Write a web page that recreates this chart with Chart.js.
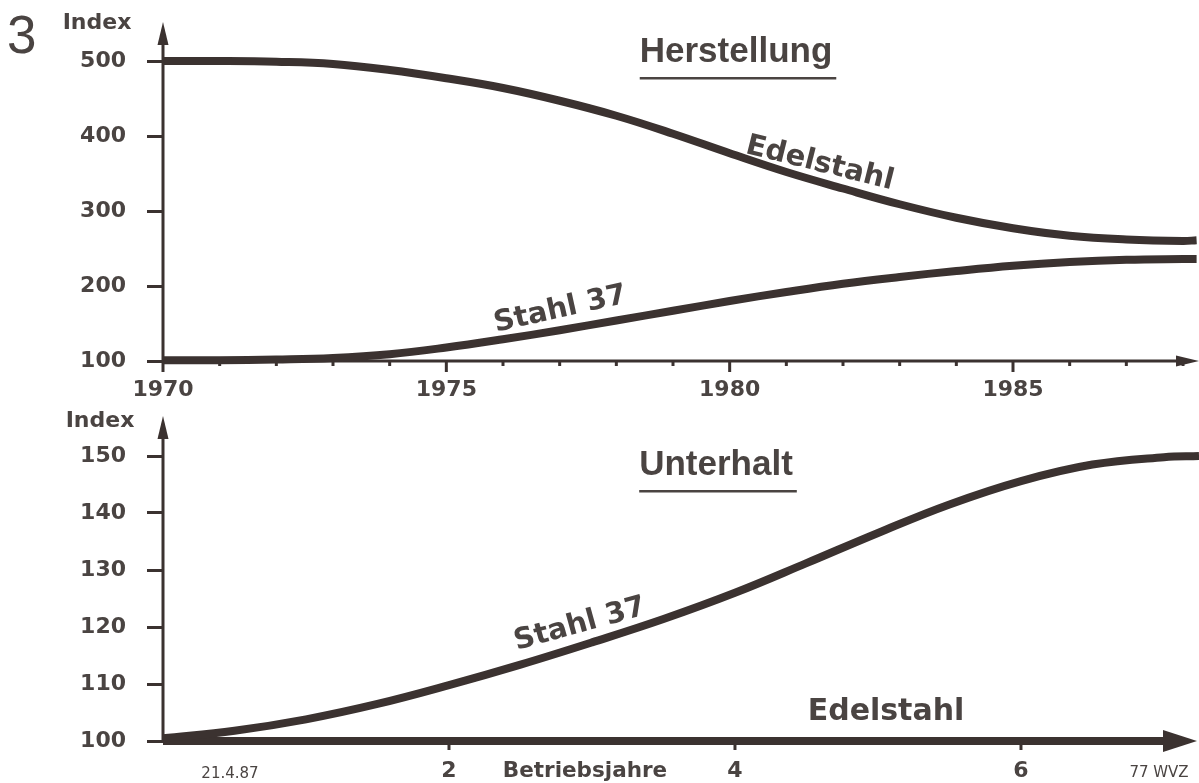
<!DOCTYPE html>
<html lang="de">
<head>
<meta charset="utf-8">
<title>Herstellung und Unterhalt</title>
<script src="https://cdn.jsdelivr.net/npm/chart.js@4.4.1/dist/chart.umd.min.js"></script>
<style>
  html, body { margin: 0; padding: 0; background: #fff; }
  #wrap { position: relative; width: 1199px; height: 783px; overflow: hidden; }
  canvas { position: absolute; left: 0; }
  #chartTop { top: 0; }
  #chartBottom { top: 400px; }
</style>
</head>
<body>
<div id="wrap">
  <canvas id="chartTop" width="1199" height="400"></canvas>
  <canvas id="chartBottom" width="1199" height="383"></canvas>
</div>
<script>
// --- Daten Herstellung (Index) ---
const jahre = [1970, 1971, 1972, 1973, 1974, 1975, 1976, 1977, 1978, 1979,
               1980, 1981, 1982, 1983, 1984, 1985, 1986, 1987, 1988, 1988.24];
const edelstahlHerst = [500, 500, 499, 496, 488, 477, 464, 447, 427, 403,
                        377, 352, 330, 309, 291, 277, 267, 262, 260, 261];
const stahl37Herst = [101, 101, 102, 104, 109, 118, 129, 141, 154, 167,
                      180, 192, 203, 212, 220, 227, 232, 235, 236, 236];
const herstYTicks = [100, 200, 300, 400, 500];
const herstXLabels = [1970, 1975, 1980, 1985];

// --- Daten Unterhalt (Index) ---
const betriebsjahre = [0, 0.5, 1, 1.5, 2, 2.5, 3, 3.5, 4, 4.5, 5, 5.5, 6, 6.5, 7, 7.245];
const stahl37Unterhalt = [100.5, 101.8, 103.8, 106.5, 109.8, 113.4, 117.3, 121.4,
                          126, 131.2, 136.5, 141.5, 145.6, 148.5, 149.8, 150];
const edelstahlJahre = [0, 7];
const edelstahlUnterhalt = [100, 100];
const unterhaltYTicks = [100, 110, 120, 130, 140, 150];
const unterhaltXLabels = [2, 4, 6];

const INK = '#3b3230';
const TEXT = '#4a4442';
const TICKFONT = { family: 'DejaVu Sans', size: 22, weight: 'bold' };

function pts(xs, ys) {
    return xs.map((x, i) => ({ x: x, y: ys[i] }));
}

function pfeilHoch(ctx, x, tipY, halfW, len) {
    ctx.beginPath();
    ctx.moveTo(x, tipY);
    ctx.lineTo(x + halfW, tipY + len);
    ctx.lineTo(x - halfW, tipY + len);
    ctx.closePath();
    ctx.fill();
}

function pfeilRechts(ctx, tipX, y, halfH, len) {
    ctx.beginPath();
    ctx.moveTo(tipX, y);
    ctx.lineTo(tipX - len, y - halfH);
    ctx.lineTo(tipX - len, y + halfH);
    ctx.closePath();
    ctx.fill();
}

// Achsen, Pfeile, kleine Striche und Beschriftungen
const dekor = {
    id: 'dekor',
    beforeDatasetsDraw(chart, args, opts) {
        const ctx = chart.ctx;
        const a = chart.chartArea;
        const xs = chart.scales.x;
        ctx.save();
        ctx.strokeStyle = INK;
        ctx.fillStyle = INK;
        ctx.lineWidth = 3;
        // y-Achse
        ctx.beginPath();
        ctx.moveTo(a.left, a.bottom + 2);
        ctx.lineTo(a.left, opts.yTip + 10);
        ctx.stroke();
        pfeilHoch(ctx, a.left, opts.yTip, 5.5, 23);
        // x-Achse
        ctx.beginPath();
        ctx.moveTo(a.left - 1, a.bottom);
        ctx.lineTo(opts.xTip - 12, a.bottom);
        ctx.stroke();
        pfeilRechts(ctx, opts.xTip, a.bottom, 5.5, 23);
        // Striche an der x-Achse
        xs.ticks.forEach(t => {
            if (t.value === xs.min && opts.skipFirst) return;
            const px = xs.getPixelForValue(t.value);
            const len = (t.value % opts.major === 0) ? opts.majorLen : opts.minorLen;
            ctx.beginPath();
            ctx.moveTo(px, a.bottom - 1);
            ctx.lineTo(px, a.bottom + len);
            ctx.stroke();
        });
        ctx.restore();
    },
    afterDraw(chart, args, opts) {
        const ctx = chart.ctx;
        ctx.save();
        ctx.fillStyle = TEXT;
        ctx.textBaseline = 'alphabetic';
        (opts.texte || []).forEach(t => {
            ctx.save();
            ctx.font = t.font;
            ctx.textAlign = t.align || 'center';
            ctx.translate(t.x, t.y);
            ctx.rotate((t.rot || 0) * Math.PI / 180);
            ctx.fillText(t.text, 0, 0);
            if (t.unterstrich) {
                const w = ctx.measureText(t.text).width;
                ctx.fillRect(-w / 2, t.unterstrich, w + 4, 2.5);
            }
            ctx.restore();
        });
        // Pfeilspitze der Edelstahl-Linie (Unterhalt)
        if (opts.linienPfeil) {
            const meta = chart.getDatasetMeta(opts.linienPfeil.dataset);
            const last = meta.data[meta.data.length - 1];
            ctx.fillStyle = INK;
            pfeilRechts(ctx, opts.linienPfeil.tip, last.y, 11, 34);
        }
        ctx.restore();
    }
};

function linie(data) {
    return {
        data: data,
        borderColor: INK,
        borderWidth: 8,
        pointRadius: 0,
        fill: false,
        tension: 0.4,
        borderCapStyle: 'butt',
        clip: false
    };
}

// --- Chart Herstellung ---
new Chart(document.getElementById('chartTop'), {
    type: 'line',
    data: {
        datasets: [linie(pts(jahre, edelstahlHerst)), linie(pts(jahre, stahl37Herst))]
    },
    options: {
        responsive: false,
        animation: false,
        devicePixelRatio: 1,
        layout: { autoPadding: false, padding: { top: 61, left: 0, right: 0, bottom: 0 } },
        plugins: {
            legend: { display: false },
            tooltip: { enabled: false },
            dekor: {
                yTip: 22, xTip: 1199, major: 5, majorLen: 11, minorLen: 5, skipFirst: false,
                texte: [
                    { text: '3', x: 7, y: 53, font: '53px "Liberation Sans"', align: 'left' },
                    { text: 'Index', x: 97, y: 29, font: 'bold 22px "DejaVu Sans"' },
                    { text: 'Herstellung', x: 736, y: 62, font: 'bold 35px "Liberation Sans"', unterstrich: 15 },
                    { text: 'Edelstahl', x: 818, y: 171, rot: 14, font: 'bold 29px "DejaVu Sans"' },
                    { text: 'Stahl 37', x: 562, y: 317, rot: -12.5, font: 'bold 29px "DejaVu Sans"' }
                ]
            }
        },
        scales: {
            x: {
                type: 'linear',
                min: 1970,
                max: 1988.24,
                afterFit: s => { s.height = 39; },
                border: { display: false },
                grid: { display: false, drawTicks: false },
                ticks: {
                    stepSize: 1,
                    includeBounds: false,
                    autoSkip: false,
                    maxRotation: 0,
                    padding: 16,
                    color: TEXT,
                    font: TICKFONT,
                    callback: v => herstXLabels.includes(v) ? String(v) : ''
                }
            },
            y: {
                min: 100,
                max: 500,
                afterFit: s => { s.width = 163; },
                afterBuildTicks: s => { s.ticks = herstYTicks.map(v => ({ value: v })); },
                border: { display: false },
                grid: { drawOnChartArea: false, tickLength: 16, tickWidth: 3, tickColor: INK },
                ticks: { padding: 21, color: TEXT, font: TICKFONT }
            }
        }
    },
    plugins: [dekor]
});

// --- Chart Unterhalt ---
new Chart(document.getElementById('chartBottom'), {
    type: 'line',
    data: {
        datasets: [linie(pts(betriebsjahre, stahl37Unterhalt)), linie(pts(edelstahlJahre, edelstahlUnterhalt))]
    },
    options: {
        responsive: false,
        animation: false,
        devicePixelRatio: 1,
        layout: { autoPadding: false, padding: { top: 56, left: 0, right: 0, bottom: 0 } },
        plugins: {
            legend: { display: false },
            tooltip: { enabled: false },
            dekor: {
                yTip: 16, xTip: 1190, major: 2, majorLen: 9, minorLen: 9, skipFirst: true,
                linienPfeil: { dataset: 1, tip: 1197 },
                texte: [
                    { text: 'Index', x: 100, y: 27, font: 'bold 22px "DejaVu Sans"' },
                    { text: 'Unterhalt', x: 716, y: 75, font: 'bold 35px "Liberation Sans"', unterstrich: 15 },
                    { text: 'Stahl 37', x: 582, y: 232, rot: -15.5, font: 'bold 29px "DejaVu Sans"' },
                    { text: 'Edelstahl', x: 886, y: 320, font: 'bold 30px "DejaVu Sans"' },
                    { text: 'Betriebsjahre', x: 585, y: 377, font: 'bold 21.5px "DejaVu Sans"' },
                    { text: '21.4.87', x: 230, y: 378, font: '15px "DejaVu Sans"' },
                    { text: '77 WVZ', x: 1159, y: 377, font: '15px "DejaVu Sans"' }
                ]
            }
        },
        scales: {
            x: {
                type: 'linear',
                min: 0,
                max: 7.245,
                afterFit: s => { s.height = 42; },
                border: { display: false },
                grid: { display: false, drawTicks: false },
                ticks: {
                    stepSize: 2,
                    includeBounds: false,
                    autoSkip: false,
                    maxRotation: 0,
                    padding: 17,
                    color: TEXT,
                    font: TICKFONT,
                    callback: v => unterhaltXLabels.includes(v) ? String(v) : ''
                }
            },
            y: {
                min: 100,
                max: 150,
                afterFit: s => { s.width = 163; },
                afterBuildTicks: s => { s.ticks = unterhaltYTicks.map(v => ({ value: v })); },
                border: { display: false },
                grid: { drawOnChartArea: false, tickLength: 16, tickWidth: 3, tickColor: INK },
                ticks: { padding: 21, color: TEXT, font: TICKFONT }
            }
        }
    },
    plugins: [dekor]
});
</script>
</body>
</html>
